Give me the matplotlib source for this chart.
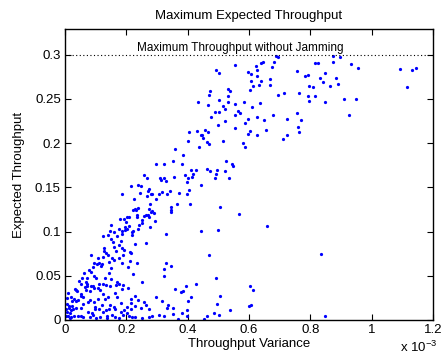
import matplotlib
matplotlib.use("Agg")
import matplotlib.pyplot as plt

plt.rcParams['font.family'] = ['Liberation Sans', 'DejaVu Sans']
plt.rcParams['mathtext.default'] = 'regular'

# === Data (variance in units of 1e-3, expected throughput) ===
variance = [
    0.553, 0.491, 0.503, 0.623, 0.639, 0.645, 0.687, 0.695, 0.682, 0.676,
    0.597, 0.607, 0.627, 0.627, 0.638, 0.632, 0.606, 0.613, 0.603, 0.667,
    0.667, 0.755, 0.782, 0.794, 0.796, 0.763, 0.791, 0.795, 0.713, 0.693,
    0.531, 0.537, 0.472, 0.469, 0.532, 0.503, 0.434, 0.467, 0.532, 0.516,
    0.521, 0.555, 0.583, 0.636, 0.610, 0.501, 0.490, 0.477, 0.564, 0.570,
    0.555, 0.626, 0.649, 0.677, 0.597, 0.588, 0.522, 0.499, 0.724, 0.755,
    0.760, 0.763, 0.555, 0.604, 0.597, 0.627, 0.656, 0.724, 0.404, 0.429,
    0.457, 0.467, 0.442, 0.448, 0.449, 0.712,
    0.873, 0.897, 0.815, 0.825, 0.873, 0.932, 0.955, 1.093, 1.131, 1.144,
    1.116, 0.830, 0.847, 0.884, 0.840, 0.891, 0.808, 0.863, 0.816, 0.847,
    0.910, 0.949, 0.927, 0.770,
    0.400, 0.360, 0.384, 0.297, 0.323, 0.351, 0.381, 0.258, 0.268, 0.310,
    0.323, 0.312, 0.329, 0.356, 0.392, 0.402, 0.398, 0.214, 0.239, 0.247,
    0.275, 0.271, 0.343, 0.371, 0.405, 0.186, 0.246, 0.284, 0.306, 0.316,
    0.332, 0.268, 0.279, 0.224, 0.297, 0.398, 0.366, 0.276, 0.346, 0.346,
    0.346, 0.228, 0.239, 0.222, 0.231, 0.273, 0.279, 0.285, 0.272, 0.290,
    0.263, 0.259, 0.236, 0.275, 0.203, 0.208, 0.235, 0.192, 0.180, 0.198,
    0.250, 0.252, 0.293, 0.149, 0.210, 0.196, 0.241, 0.277, 0.177, 0.201,
    0.238,
    0.436, 0.463, 0.470, 0.516, 0.581, 0.587, 0.526, 0.544, 0.547, 0.411,
    0.428, 0.464, 0.472, 0.496, 0.492, 0.521, 0.417, 0.414, 0.489, 0.535,
    0.442, 0.407, 0.506, 0.568, 0.660, 0.498,
    0.195, 0.147, 0.161, 0.187, 0.187, 0.217, 0.223, 0.218, 0.123, 0.140,
    0.149, 0.171, 0.157, 0.182, 0.175, 0.228, 0.265, 0.329, 0.126, 0.126,
    0.134, 0.160, 0.165, 0.187, 0.192, 0.190, 0.211, 0.215, 0.086, 0.109,
    0.125, 0.140, 0.152, 0.175, 0.142, 0.161, 0.185, 0.211, 0.236, 0.095,
    0.103, 0.112, 0.116, 0.121, 0.092, 0.149, 0.205, 0.062, 0.079, 0.085,
    0.100, 0.073, 0.095, 0.129, 0.144, 0.149, 0.123, 0.221, 0.330, 0.345,
    0.323, 0.323, 0.250, 0.047, 0.055, 0.051, 0.067, 0.071, 0.073, 0.066,
    0.086, 0.090, 0.068, 0.082, 0.114, 0.095, 0.107, 0.166, 0.175, 0.189,
    0.147, 0.206, 0.036, 0.033, 0.040, 0.052, 0.029, 0.035, 0.042, 0.053,
    0.060, 0.023, 0.020, 0.014, 0.023, 0.027, 0.035, 0.012, 0.019, 0.007,
    0.002, 0.011, 0.021, 0.029, 0.041, 0.051, 0.060, 0.082, 0.092, 0.100,
    0.113, 0.136, 0.052, 0.058, 0.074, 0.082, 0.094, 0.098, 0.110, 0.075,
    0.087, 0.125, 0.133, 0.137, 0.154, 0.162, 0.176, 0.164, 0.184, 0.192,
    0.201, 0.147, 0.161, 0.120, 0.099, 0.107, 0.123, 0.141, 0.162, 0.170,
    0.131, 0.182, 0.214, 0.214, 0.144, 0.227, 0.237, 0.214, 0.190, 0.209,
    0.217, 0.229, 0.249, 0.228, 0.259, 0.275, 0.283, 0.274, 0.298, 0.251,
    0.264, 0.317, 0.332, 0.351, 0.323, 0.359, 0.378, 0.385, 0.394, 0.401,
    0.399, 0.399, 0.353, 0.367, 0.307, 0.185, 0.169, 0.133, 0.110,
    0.443, 0.469, 0.493, 0.426, 0.412, 0.505, 0.496, 0.603, 0.614, 0.600,
    0.605, 0.539, 0.486, 0.503, 0.463, 0.454, 0.380, 0.834, 0.847,
    0.201, 0.335, 0.008, 0.005, 0.010, 0.015, 0.004, 0.017,
]
throughput = [
    0.288, 0.283, 0.279, 0.287, 0.290, 0.292, 0.298, 0.297, 0.292, 0.286,
    0.280, 0.278, 0.283, 0.276, 0.270, 0.266, 0.270, 0.264, 0.260, 0.273,
    0.266, 0.282, 0.276, 0.277, 0.264, 0.257, 0.253, 0.248, 0.257, 0.254,
    0.261, 0.259, 0.259, 0.254, 0.253, 0.249, 0.247, 0.243, 0.246, 0.242,
    0.239, 0.244, 0.246, 0.245, 0.241, 0.235, 0.235, 0.230, 0.236, 0.234,
    0.232, 0.229, 0.226, 0.232, 0.227, 0.223, 0.225, 0.221, 0.227, 0.234,
    0.218, 0.213, 0.217, 0.214, 0.210, 0.209, 0.215, 0.209, 0.213, 0.214,
    0.215, 0.212, 0.209, 0.209, 0.206, 0.205,
    0.299, 0.297, 0.291, 0.291, 0.292, 0.289, 0.285, 0.284, 0.283, 0.285,
    0.263, 0.274, 0.279, 0.274, 0.269, 0.267, 0.263, 0.264, 0.253, 0.246,
    0.250, 0.250, 0.232, 0.226,
    0.202, 0.193, 0.187, 0.176, 0.176, 0.180, 0.176, 0.164, 0.161, 0.161,
    0.160, 0.158, 0.157, 0.162, 0.164, 0.160, 0.156, 0.151, 0.153, 0.152,
    0.148, 0.146, 0.146, 0.144, 0.147, 0.143, 0.144, 0.143, 0.143, 0.145,
    0.142, 0.140, 0.142, 0.137, 0.137, 0.142, 0.131, 0.131, 0.128, 0.124,
    0.122, 0.126, 0.127, 0.124, 0.124, 0.125, 0.122, 0.123, 0.119, 0.121,
    0.119, 0.118, 0.119, 0.117, 0.117, 0.116, 0.117, 0.114, 0.114, 0.111,
    0.113, 0.110, 0.112, 0.107, 0.106, 0.105, 0.107, 0.105, 0.103, 0.103,
    0.103,
    0.196, 0.201, 0.199, 0.202, 0.200, 0.196, 0.180, 0.176, 0.174, 0.170,
    0.170, 0.171, 0.169, 0.170, 0.165, 0.168, 0.165, 0.162, 0.160, 0.161,
    0.153, 0.131, 0.128, 0.120, 0.106, 0.102,
    0.102, 0.101, 0.099, 0.101, 0.097, 0.099, 0.101, 0.096, 0.095, 0.096,
    0.092, 0.095, 0.088, 0.089, 0.085, 0.086, 0.087, 0.097, 0.081, 0.078,
    0.076, 0.082, 0.078, 0.081, 0.079, 0.074, 0.077, 0.076, 0.074, 0.070,
    0.071, 0.073, 0.070, 0.070, 0.066, 0.068, 0.065, 0.067, 0.065, 0.064,
    0.063, 0.064, 0.061, 0.063, 0.060, 0.059, 0.060, 0.053, 0.057, 0.054,
    0.047, 0.048, 0.050, 0.048, 0.053, 0.046, 0.041, 0.052, 0.064, 0.061,
    0.058, 0.050, 0.043, 0.044, 0.047, 0.041, 0.043, 0.041, 0.039, 0.037,
    0.039, 0.038, 0.034, 0.033, 0.034, 0.036, 0.036, 0.040, 0.041, 0.040,
    0.038, 0.036, 0.034, 0.035, 0.033, 0.029, 0.024, 0.022, 0.023, 0.027,
    0.026, 0.022, 0.026, 0.014, 0.016, 0.013, 0.014, 0.016, 0.011, 0.009,
    0.005, 0.004, 0.003, 0.005, 0.004, 0.005, 0.003, 0.003, 0.006, 0.002,
    0.003, 0.002, 0.014, 0.018, 0.020, 0.023, 0.020, 0.012, 0.013, 0.009,
    0.008, 0.009, 0.011, 0.005, 0.006, 0.003, 0.002, 0.012, 0.009, 0.011,
    0.008, 0.017, 0.015, 0.017, 0.015, 0.024, 0.029, 0.026, 0.030, 0.026,
    0.024, 0.019, 0.012, 0.019, 0.013, 0.027, 0.023, 0.024, 0.006, 0.005,
    0.003, 0.003, 0.014, 0.016, 0.020, 0.013, 0.005, 0.003, 0.026, 0.002,
    0.017, 0.021, 0.014, 0.014, 0.004, 0.035, 0.032, 0.033, 0.038, 0.021,
    0.011, 0.005, 0.007, 0.001, 0.006, 0.035, 0.043, 0.040, 0.041,
    0.101, 0.074, 0.048, 0.041, 0.026, 0.027, 0.018, 0.038, 0.034, 0.016,
    0.017, 0.011, 0.008, 0.006, 0.005, 0.001, 0.008, 0.075, 0.005,
    0.015, 0.017, 0.018, 0.025, 0.030, 0.008, 0.012, 0.002,
]
max_throughput = 0.3
x_ticks = [0, 0.2, 0.4, 0.6, 0.8, 1.0, 1.2]
x_tick_labels = ['0', '0.2', '0.4', '0.6', '0.8', '1', '1.2']
y_ticks = [0, 0.05, 0.1, 0.15, 0.2, 0.25, 0.3]
y_tick_labels = ['0', '0.05', '0.1', '0.15', '0.2', '0.25', '0.3']

fig = plt.figure(figsize=(4.43, 3.54), dpi=100)
ax = fig.add_axes([65 / 443, 1 - 320 / 354, 368 / 443, 291 / 354])

ax.plot(variance, throughput, '.', color='#0000ff', markersize=2.6)
ax.axhline(max_throughput, color='k', linestyle=(0, (1, 2.2)), linewidth=0.8)
ax.text(0.234, max_throughput + 0.0073, "Maximum Throughput without Jamming",
        fontsize=8.5, va='center', ha='left')

ax.set_xlim(0, 1.2)
ax.set_ylim(0, 0.329)
ax.set_xticks(x_ticks)
ax.set_xticklabels(x_tick_labels)
ax.set_yticks(y_ticks)
ax.set_yticklabels(y_tick_labels)
ax.tick_params(direction='in', length=4, width=0.8, labelsize=9.5,
               top=True, right=True, pad=3)
for s in ax.spines.values():
    s.set_linewidth(1.0)

ax.set_title("Maximum Expected Throughput", fontsize=9.5, pad=7)
ax.set_xlabel("Throughput Variance", fontsize=9.5, labelpad=1)
ax.set_ylabel("Expected Throughput", fontsize=9.5, labelpad=7)
fig.text(400 / 443, 1 - 352 / 354, r"x 10$^{-3}$", fontsize=9.5,
         ha='left', va='baseline')

fig.savefig("out.png", dpi=100)
